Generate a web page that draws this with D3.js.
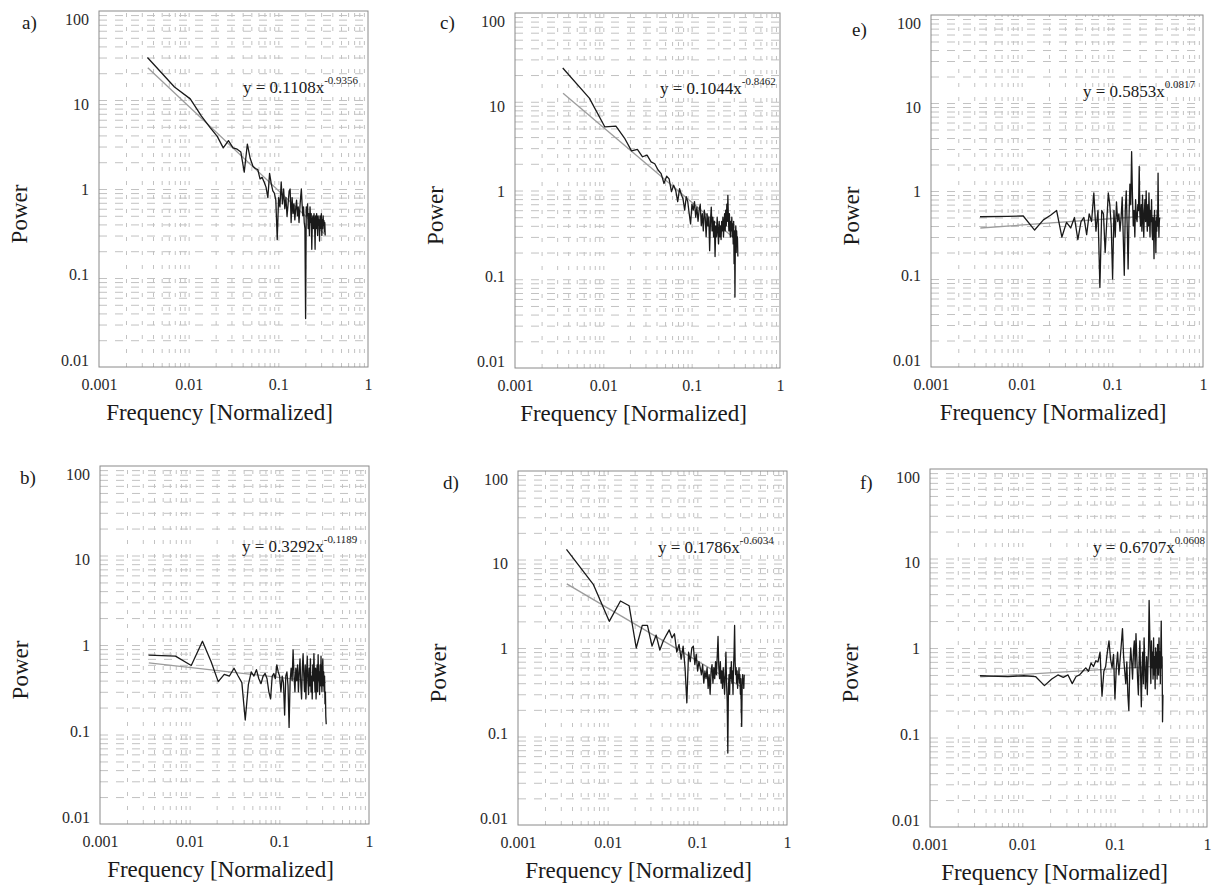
<!DOCTYPE html>
<html>
<head>
<meta charset="utf-8">
<script src="https://cdn.jsdelivr.net/npm/d3@7"></script>
<style>
  body { margin: 0; background: #fff; }
  svg { display: block; font-family: "Liberation Serif", "Times New Roman", serif; }
  .grid line { stroke: #c2c2c2; stroke-width: 1; }
  .grid .domain { display: none; }
  .ticks .domain { display: none; }
</style>
</head>
<body>
<svg id="chart" width="1216" height="887"></svg>
<script>
// FFT bins of a 288-sample record, k = 1..96
const sampleLength = 288;
const binIndex = d3.range(1, 97);
const frequency = binIndex.map(k => k / sampleLength);

// power spectra (one value per bin)
const powerA = [30, 14, 10.3, 6.6, 4.9, 3.9, 2.9, 3.5, 2.9, 2.8,
  2.6, 1.55, 3.2, 2.2, 1.8, 1.7, 1.65, 1.3, 1.35, 1.2,
  1.05, 0.8, 1.5, 1.15, 0.95, 0.9, 0.75, 0.27, 0.8, 0.63,
  1.2, 0.68, 1.0, 0.6, 0.8, 0.49, 0.68, 0.95, 1.0, 0.42,
  0.8, 0.53, 0.68, 0.45, 0.6, 0.75, 0.5, 0.63, 0.42, 0.6,
  0.8, 1.0, 0.68, 0.5, 0.63, 0.42, 0.36, 0.035, 0.63, 0.5,
  0.68, 0.36, 0.53, 0.3, 0.63, 0.42, 0.53, 0.21, 0.45, 0.5,
  0.36, 0.53, 0.42, 0.21, 0.5, 0.36, 0.53, 0.42, 0.3, 0.5,
  0.39, 0.45, 0.26, 0.5, 0.36, 0.42, 0.53, 0.3, 0.45, 0.36,
  0.5, 0.39, 0.44, 0.33, 0.42, 0.3];

const powerB = [0.77, 0.75, 0.59, 1.1, 0.65, 0.39, 0.47, 0.45, 0.55, 0.45,
  0.38, 0.145, 0.36, 0.5, 0.45, 0.53, 0.42, 0.37, 0.45, 0.48,
  0.42, 0.3, 0.25, 0.45, 0.48, 0.42, 0.6, 0.5, 0.45, 0.3,
  0.45, 0.38, 0.165, 0.45, 0.5, 0.35, 0.12, 0.4, 0.55, 0.4,
  0.88, 0.45, 0.3, 0.55, 0.4, 0.6, 0.3, 0.5, 0.7, 0.35,
  0.25, 0.55, 0.8, 0.45, 0.3, 0.6, 0.25, 0.5, 0.75, 0.4,
  0.28, 0.55, 0.35, 0.7, 0.3, 0.45, 0.25, 0.6, 0.4, 0.8,
  0.45, 0.3, 0.55, 0.25, 0.45, 0.6, 0.3, 0.78, 0.4, 0.5,
  0.28, 0.6, 0.35, 0.75, 0.4, 0.3, 0.55, 0.7, 0.35, 0.5,
  0.3, 0.45, 0.22, 0.3, 0.16, 0.13];

const powerC = [24, 11, 5.2, 5.3, 3.9, 2.8, 2.9, 2.4, 2.5, 2.1,
  2.0, 1.7, 1.55, 1.2, 1.45, 1.35, 0.97, 1.15, 1.0, 0.75,
  1.05, 0.9, 0.8, 0.6, 0.85, 0.75, 0.55, 0.42, 0.7, 0.6,
  0.75, 0.5, 0.65, 0.45, 0.6, 0.7, 0.4, 0.55, 0.35, 0.6,
  0.5, 0.3, 0.55, 0.4, 0.5, 0.21, 0.45, 0.65, 0.35, 0.5,
  0.3, 0.45, 0.18, 0.4, 0.3, 0.5, 0.35, 0.25, 0.45, 0.3,
  0.4, 0.28, 0.45, 0.35, 0.5, 0.3, 0.42, 0.55, 0.35, 0.6,
  0.4, 0.7, 0.45, 0.88, 0.5, 0.35, 0.55, 0.4, 0.3, 0.45,
  0.35, 0.5, 0.3, 0.42, 0.25, 0.45, 0.15, 0.35, 0.063, 0.3,
  0.4, 0.2, 0.35, 0.25, 0.3, 0.18];

const powerD = [13, 5.2, 2.0, 3.4, 3.0, 1.0, 1.8, 1.8, 1.05, 1.4,
  0.95, 1.2, 1.4, 1.6, 1.3, 1.45, 0.9, 1.1, 0.75, 1.05,
  0.6, 0.24, 0.9, 0.7, 1.0, 1.05, 0.65, 0.85, 0.55, 0.7,
  0.6, 0.5, 0.65, 0.4, 0.55, 0.45, 0.6, 0.35, 0.5, 0.3,
  0.55, 0.65, 0.4, 0.6, 0.45, 0.7, 0.5, 0.8, 1.35, 0.6,
  0.45, 0.7, 0.4, 0.55, 0.35, 0.6, 0.45, 0.3, 0.5, 0.9,
  0.4, 0.25, 0.065, 0.35, 0.5, 0.3, 0.6, 0.45, 0.7, 0.4,
  0.55, 0.3, 0.6, 0.9, 1.8, 0.7, 0.5, 0.6, 0.4, 0.55,
  0.35, 0.5, 0.45, 0.6, 0.4, 0.5, 0.3, 0.45, 0.2, 0.13,
  0.35, 0.5, 0.4, 0.45, 0.35, 0.5];

const powerE = [0.51, 0.515, 0.52, 0.36, 0.47, 0.53, 0.6, 0.3, 0.44, 0.38,
  0.5, 0.28, 0.45, 0.5, 0.32, 0.55, 0.45, 0.95, 0.35, 0.6,
  0.08, 0.6, 0.55, 0.2, 0.45, 0.95, 0.7, 0.4, 0.1, 0.6,
  0.3, 0.75, 0.45, 0.55, 0.35, 0.5, 0.85, 0.3, 0.11, 0.6,
  1.0, 0.4, 0.13, 0.5, 1.2, 0.7, 2.8, 0.9, 0.4, 0.6,
  0.3, 0.8, 0.5, 0.45, 0.7, 0.6, 1.9, 0.55, 0.4, 0.7,
  0.35, 0.9, 0.5, 0.3, 0.6, 0.8, 0.45, 1.0, 0.5, 0.35,
  0.7, 0.4, 0.95, 0.5, 0.3, 0.6, 0.45, 0.8, 0.35, 0.28,
  0.5, 0.4, 0.17, 0.6, 0.3, 0.45, 0.2, 0.5, 0.35, 0.6,
  0.4, 1.6, 0.5, 0.3, 0.45, 0.5];

const powerF = [0.49, 0.48, 0.49, 0.48, 0.38, 0.45, 0.5, 0.47, 0.5, 0.4,
  0.48, 0.5, 0.55, 0.6, 0.55, 0.68, 0.62, 0.72, 0.7, 0.9,
  0.29, 0.55, 0.62, 0.9, 1.2, 0.75, 0.6, 0.85, 0.27, 0.6,
  0.9, 0.5, 0.75, 1.1, 1.65, 0.8, 0.55, 0.4, 0.7, 0.3,
  0.2, 0.6, 1.0, 0.7, 0.45, 0.9, 1.2, 0.6, 1.45, 0.8,
  0.45, 0.3, 0.7, 1.2, 0.5, 0.22, 0.6, 0.9, 0.4, 1.3,
  0.7, 0.35, 0.5, 0.8, 0.3, 0.6, 1.0, 3.4, 1.6, 0.7,
  0.4, 1.2, 0.6, 0.9, 0.45, 1.3, 0.5, 0.8, 0.35, 1.0,
  0.6, 0.9, 0.45, 1.1, 0.7, 0.5, 1.3, 0.6, 0.9, 0.4,
  1.0, 2.0, 0.6, 0.8, 0.15, 0.3];

// power-law trend lines, end points
const fitA = [[0.0035, 23], [0.33, 0.31]];
const fitB = [[0.0035, 0.63], [0.33, 0.38]];
const fitC = [[0.0035, 12.5], [0.33, 0.27]];
const fitD = [[0.0035, 5.3], [0.33, 0.35]];
const fitE = [[0.0035, 0.38], [0.33, 0.53]];
const fitF = [[0.0035, 0.475], [0.33, 0.63]];

const panelLetters = ['a)', 'b)', 'c)', 'd)', 'e)', 'f)'];
const coefficients = ['0.1108', '0.3292', '0.1044', '0.1786', '0.5853', '0.6707'];
const exponents = ['-0.9356', '-0.1189', '-0.8462', '-0.6034', '0.0817', '0.0608'];

const xTickValues = [0.001, 0.01, 0.1, 1];
const xTickLabels = ['0.001', '0.01', '0.1', '1'];
const yTickValues = [0.01, 0.1, 1, 10, 100];
const yTickLabels = ['0.01', '0.1', '1', '10', '100'];
const xTitle = 'Frequency [Normalized]';
const yTitle = 'Power';

const powers = [powerA, powerB, powerC, powerD, powerE, powerF];
const fits = [fitA, fitB, fitC, fitD, fitE, fitF];

// where each panel sits on the page
const layout = [
  { left: 99,  right: 368,  top: 11,  bottom: 367, letterX: 22,  letterY: 29,  eq: [0.0403, 11.9] },
  { left: 100, right: 369,  top: 466, bottom: 824, letterX: 20,  letterY: 484, eq: [0.0383, 10.9] },
  { left: 515, right: 780,  top: 13,  bottom: 368, letterX: 440, letterY: 29,  eq: [0.0438, 12.2] },
  { left: 518, right: 787,  top: 471, bottom: 825, letterX: 443, letterY: 489, eq: [0.0364, 11.8] },
  { left: 931, right: 1203, top: 15,  bottom: 367, letterX: 852, letterY: 36,  eq: [0.0474, 11.7] },
  { left: 930, right: 1207, top: 469, bottom: 827, letterX: 860, letterY: 489, eq: [0.0583, 11.5] }
];

const svg = d3.select('#chart');

function drawPanel(i) {
  const L = layout[i];
  const g = svg.append('g');
  const h = L.bottom - L.top;
  const w = L.right - L.left;

  const x = d3.scaleLog().domain([0.001, 1]).range([L.left, L.right]);
  const y = d3.scaleLog().domain([0.01, 100]).range([L.bottom, L.top]);
  // tick labels sit a little inside the end grid lines in the original
  const yLab = d3.scaleLog().domain([0.01, 100]).range([L.bottom - 7, L.top + 8]);

  // dashed grid on every 1..9 step of each decade
  g.append('g')
    .attr('class', 'grid')
    .attr('transform', `translate(0,${L.bottom})`)
    .call(d3.axisBottom(x).tickValues(x.ticks().filter(v => v > 0.001 && v < 1)).tickSize(-h).tickFormat(''))
    .selectAll('line').attr('stroke-dasharray', '4,10');

  g.append('g')
    .attr('class', 'grid')
    .attr('transform', `translate(${L.left},0)`)
    .call(d3.axisLeft(y).tickValues(y.ticks().filter(v => v > 0.01 && v < 100)).tickSize(-w).tickFormat(''))
    .selectAll('line').attr('stroke-dasharray', '8,8');

  g.append('rect')
    .attr('x', L.left).attr('y', L.top)
    .attr('width', w).attr('height', h)
    .attr('fill', 'none').attr('stroke', '#8a8a8a').attr('stroke-width', 1);

  const line = d3.line().x(d => x(d[0])).y(d => y(d[1]));

  g.append('path')
    .datum(fits[i])
    .attr('d', line)
    .attr('fill', 'none').attr('stroke', '#9c9c9c').attr('stroke-width', 1.3);

  const pts = frequency.map((f, k) => [f, powers[i][k]]).filter(d => d[1] != null);
  g.append('path')
    .datum(pts)
    .attr('d', line)
    .attr('fill', 'none').attr('stroke', '#1a1a1a').attr('stroke-width', 1.3)
    .attr('stroke-linejoin', 'round');

  // tick labels
  const xa = g.append('g')
    .attr('class', 'ticks')
    .attr('transform', `translate(0,${L.bottom})`)
    .call(d3.axisBottom(x).tickValues(xTickValues).tickFormat((d, j) => xTickLabels[j]).tickSize(0).tickPadding(12));
  xa.attr('font-family', null).attr('font-size', 16);
  xa.selectAll('text').attr('fill', '#2a2a2a');

  const ya = g.append('g')
    .attr('class', 'ticks')
    .attr('transform', `translate(${L.left},0)`)
    .call(d3.axisLeft(yLab).tickValues(yTickValues).tickFormat((d, j) => yTickLabels[j]).tickSize(0).tickPadding(10));
  ya.attr('font-family', null).attr('font-size', 16);
  ya.selectAll('text').attr('fill', '#2a2a2a');

  // axis titles
  g.append('text')
    .attr('x', (L.left + L.right) / 2 - 14)
    .attr('y', L.bottom + 53)
    .attr('text-anchor', 'middle')
    .attr('font-size', 23)
    .attr('fill', '#1a1a1a')
    .text(xTitle);

  const py = (L.top + L.bottom) / 2 + 25;
  g.append('text')
    .attr('transform', `translate(${L.left - 80},${py}) rotate(-90)`)
    .attr('text-anchor', 'middle')
    .attr('dy', '0.35em')
    .attr('font-size', 23)
    .attr('fill', '#1a1a1a')
    .text(yTitle);

  // panel letter
  g.append('text')
    .attr('x', L.letterX).attr('y', L.letterY)
    .attr('font-size', 19)
    .attr('fill', '#1a1a1a')
    .text(panelLetters[i]);

  // trend equation
  const eq = g.append('text')
    .attr('x', x(L.eq[0])).attr('y', y(L.eq[1]))
    .attr('font-size', 17)
    .attr('fill', '#1a1a1a');
  eq.append('tspan').text('y = ' + coefficients[i] + 'x');
  eq.append('tspan').attr('dy', -9).attr('font-size', 11).text(exponents[i]);
}

layout.forEach((d, i) => drawPanel(i));
</script>
</body>
</html>
